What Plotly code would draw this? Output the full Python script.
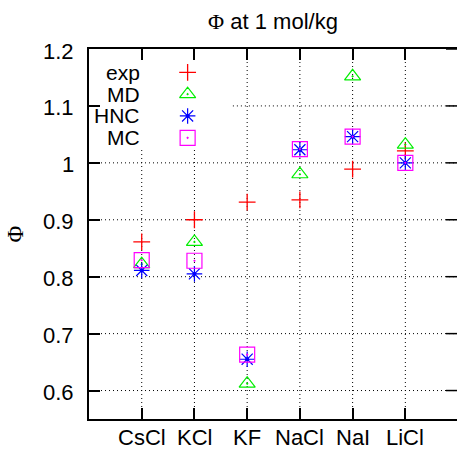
import plotly.graph_objects as go

# Osmotic coefficient at 1 mol/kg for six alkali halides
salts = ["CsCl", "KCl", "KF", "NaCl", "NaI", "LiCl"]
phi_exp = [0.861, 0.900, 0.931, 0.935, 0.989, 1.021]
phi_md = [0.822, 0.861, 0.612, 0.980, 1.152, 1.032]
phi_hnc = [0.811, 0.805, 0.655, 1.023, 1.046, 1.000]
phi_mc = [0.829, 0.828, 0.663, 1.024, 1.046, 1.000]
y_ticks = [0.6, 0.7, 0.8, 0.9, 1.0, 1.1, 1.2]
y_tick_text = ["0.6", "0.7", "0.8", "0.9", "1", "1.1", "1.2"]

pos = list(range(1, len(salts) + 1))

SANS = "Liberation Sans"
SERIF = "Liberation Serif"

X_RANGE = [0, 6.98]
Y_RANGE = [0.55, 1.2]
PLOT_W = 457 - 89          # plotting-area width in px
TICK_LEN = 11
label_font = dict(family=SANS, size=22, color="black")

series = [
    ("exp", phi_exp, dict(symbol="cross-thin-open", size=12, color="#ff0000",
                          line=dict(color="#ff0000", width=1.3))),
    ("MD", phi_md, dict(symbol="triangle-up-open-dot", size=14, color="#00ee00",
                        line=dict(color="#00ee00", width=1.2))),
    ("HNC", phi_hnc, dict(symbol="asterisk-open", size=13, color="#0000ff",
                          line=dict(color="#0000ff", width=1.2))),
    ("MC", phi_mc, dict(symbol="square-open-dot", size=15, color="#ff00ff",
                        line=dict(color="#ff00ff", width=1.2))),
]
star_dot = dict(symbol="circle", size=4, color="#0000ff")

# key placement, as fractions of the plotting area
key_x_text = 0.143
key_x_mark = 0.268
key_rows = [0.937, 0.878, 0.819, 0.760]
key_box = (0.391, 0.735)   # right edge / lower edge of the key's blank area


def frac_to_x(f):
    return X_RANGE[0] + f * (X_RANGE[1] - X_RANGE[0])


def frac_to_y(f):
    return Y_RANGE[0] + f * (Y_RANGE[1] - Y_RANGE[0])


fig = go.Figure()
annotations = []
for (name, vals, marker), ky in zip(series, key_rows):
    fig.add_trace(go.Scatter(x=pos, y=vals, mode="markers", marker=marker,
                             name=name, showlegend=False, cliponaxis=False))
    kx, kyv = [frac_to_x(key_x_mark)], [frac_to_y(ky)]
    if name == "HNC":
        fig.add_trace(go.Scatter(x=pos, y=vals, mode="markers", marker=star_dot,
                                 showlegend=False, hoverinfo="skip"))
    fig.add_trace(go.Scatter(x=kx, y=kyv, mode="markers", marker=marker,
                             showlegend=False, hoverinfo="skip"))
    if name == "HNC":
        fig.add_trace(go.Scatter(x=kx, y=kyv, mode="markers", marker=star_dot,
                                 showlegend=False, hoverinfo="skip"))
    annotations.append(dict(text=name, x=key_x_text, y=ky, xref="paper", yref="paper",
                            xanchor="right", yanchor="middle", showarrow=False,
                            font=dict(family=SANS, size=21, color="black")))

# tick labels
for v, t in zip(y_ticks, y_tick_text):
    annotations.append(dict(text=t, x=0, y=v, xref="paper", yref="y", xanchor="right",
                            yanchor="middle", xshift=-13, yshift=-2, showarrow=False,
                            font=label_font))
for p, t in zip(pos, salts):
    annotations.append(dict(text=t, x=p, y=0, xref="x", yref="paper", xanchor="center",
                            yanchor="top", yshift=-5, borderpad=0, showarrow=False,
                            font=label_font))

# y-axis title
annotations.append(dict(text="Φ", x=-0.2, y=0.5, xref="paper", yref="paper",
                        xanchor="center", yanchor="middle", showarrow=False, textangle=-90,
                        font=dict(family=SERIF, size=23, color="black")))

# dotted grid, left blank behind the key
grid_line = dict(color="black", width=1, dash="1px,3px")
shapes = []
for v in y_ticks[:-1]:
    x0 = frac_to_x(key_box[0]) if v > frac_to_y(key_box[1]) else X_RANGE[0]
    shapes.append(dict(type="line", xref="x", yref="y", x0=x0, x1=X_RANGE[1], y0=v, y1=v,
                       line=grid_line, layer="below"))
for p in pos:
    y1 = frac_to_y(key_box[1]) if p < frac_to_x(key_box[0]) else Y_RANGE[1]
    shapes.append(dict(type="line", xref="x", yref="y", x0=p, x1=p, y0=Y_RANGE[0], y1=y1,
                       line=grid_line, layer="below"))
# inward ticks on the right-hand border
for v in y_ticks:
    shapes.append(dict(type="line", xref="paper", yref="y", x0=1 - TICK_LEN / PLOT_W, x1=1,
                       y0=v, y1=v, line=dict(color="black", width=1.5), layer="above"))

fig.update_layout(
    width=457, height=451, autosize=False,
    margin=dict(l=89, r=0, t=49, b=32, pad=0),
    paper_bgcolor="white", plot_bgcolor="rgba(0,0,0,0)",
    showlegend=False,
    title=dict(text=f"<span style='font-family:{SERIF}'>Φ</span> at 1 mol/kg",
               x=0.5, xref="paper", xanchor="center",
               y=0.953, yref="container", yanchor="middle",
               font=dict(family=SANS, size=22, color="black")),
    xaxis=dict(range=X_RANGE, tickvals=pos, showticklabels=False,
               ticks="inside", ticklen=TICK_LEN, tickwidth=1.5, tickcolor="black",
               showline=True, linewidth=2, linecolor="black", mirror="ticks",
               showgrid=False, zeroline=False),
    yaxis=dict(range=Y_RANGE, tickvals=y_ticks, showticklabels=False,
               ticks="inside", ticklen=TICK_LEN, tickwidth=1.5, tickcolor="black",
               showline=True, linewidth=2, linecolor="black", mirror=False,
               showgrid=False, zeroline=False),
    annotations=annotations,
    shapes=shapes,
)

fig.write_html("out.html")
